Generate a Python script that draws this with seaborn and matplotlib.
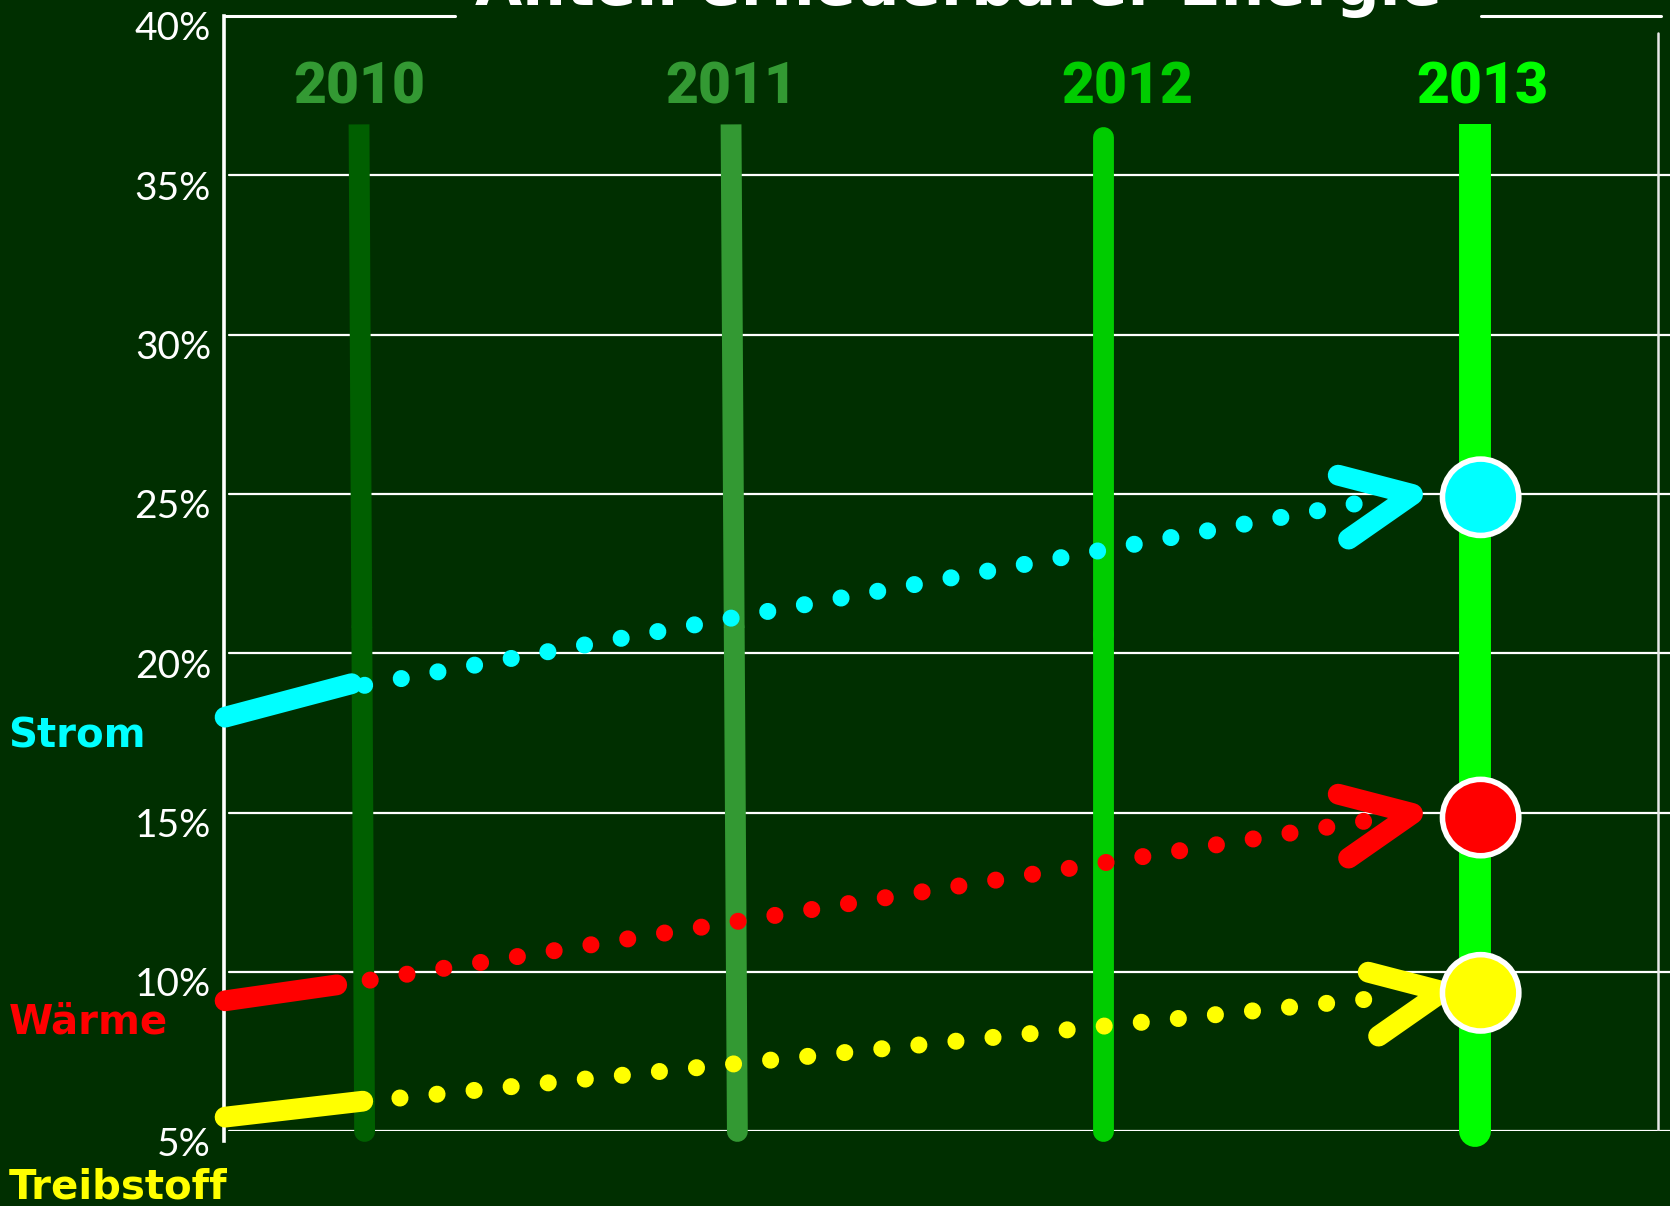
import seaborn as sns
import matplotlib
matplotlib.use('Agg')
import matplotlib.pyplot as plt
from matplotlib.markers import MarkerStyle
from matplotlib import transforms

# Données
years = [2010, 2011, 2012, 2013]
bar_colors = ['#005f00', '#339933', '#00cc00', '#00ff00']
year_label_colors = ['#339933', '#339933', '#00cc00', '#00ff00']
bar_top = [36.6, 36.6, 36.2, 36.6]
bar_bottom = [5.0, 5.0, 5.0, 5.0]
bar_bottom_x = [2010.015, 2011.017, 2012.0, 2013.0]

series = ['Strom', 'Wärme', 'Treibstoff']
series_colors = ['#00ffff', '#ff0000', '#ffff00']

# trait épais de départ
start_x0 = [2009.64, 2009.64, 2009.64]
start_x1 = [2009.98, 2009.94, 2010.01]
start_y0 = [18.0, 9.1, 5.45]
start_y1 = [19.05, 9.6, 5.95]

# pointillés
dot_x0 = [2010.015, 2010.03, 2010.11]
dot_y0 = [19.0, 9.75, 6.05]
dot_x1 = [2012.68, 2012.71, 2012.71]
dot_y1 = [24.7, 14.75, 9.15]

# pointes de flèche
tip_x = [2012.83, 2012.83, 2012.91]
tip_y = [25.0, 15.0, 9.4]

# valeurs 2013
val_2013 = [24.9, 14.85, 9.35]

yticks = [5, 10, 15, 20, 25, 30, 35, 40]
ytick_labels = ['5%', '10%', '15%', '20%', '25%', '30%', '35%', '40%']

bg = '#002f00'
sns.set_theme(style='white', rc={'axes.facecolor': bg, 'figure.facecolor': bg})
plt.rcParams['font.family'] = ['DejaVu Sans']

fig = plt.figure(figsize=(16.7, 12.06), dpi=100)
ax = fig.add_axes([0.1339, 0.0618, 0.8661, 0.9249])
ax.set_xlim(2009.636, 2013.524)
ax.set_ylim(5, 40)

# grille horizontale
for v in yticks[:-1]:
    ax.axhline(v, xmin=0.004, xmax=1.0, color='white', lw=1.6, zorder=1)
ax.axhline(40, xmin=0, xmax=0.16, color='white', lw=2.2, zorder=1, clip_on=False)
ax.axhline(40, xmin=0.869, xmax=0.994, color='white', lw=2.2, zorder=1, clip_on=False)
ax.axvline(2013.493, ymin=0, ymax=0.985, color='#e8e8e8', lw=1.8, zorder=1)

for s in ['top', 'right', 'bottom']:
    ax.spines[s].set_visible(False)
ax.spines['left'].set_color('white')
ax.spines['left'].set_linewidth(2.6)
ax.spines['left'].set_bounds(4.7, 40)

ax.set_xticks([])
ax.set_yticks(yticks)
ax.set_yticklabels(ytick_labels)
ax.tick_params(axis='y', length=0, pad=9, labelsize=28, labelcolor='white')
off = transforms.ScaledTranslation(0, -7 / 72, fig.dpi_scale_trans)
for lab in ax.get_yticklabels():
    lab.set_family(['Lato', 'DejaVu Sans'])
    lab.set_transform(lab.get_transform() + off)

# barres des années
for i, yr in enumerate(years):
    mid = (bar_top[i] + bar_bottom[i]) / 2
    lw = 23 if yr == 2013 else 15
    top_cap = 'round' if yr == 2012 else 'butt'
    xm = (yr + bar_bottom_x[i]) / 2
    sns.lineplot(x=[bar_bottom_x[i], xm], y=[bar_bottom[i], mid], ax=ax, color=bar_colors[i],
                 lw=lw, solid_capstyle='round', sort=False, estimator=None,
                 zorder=2, clip_on=False)
    sns.lineplot(x=[xm, yr], y=[mid, bar_top[i]], ax=ax, color=bar_colors[i],
                 lw=lw, solid_capstyle=top_cap, sort=False, estimator=None, zorder=2)
    ax.text(yr + [0, 0, 0.065, 0.02][i], 37.75, str(yr), ha='center', va='center',
            fontsize=41, fontweight='black', color=year_label_colors[i],
            family=['Roboto', 'DejaVu Sans'])

chevron = MarkerStyle([(-1, 0.26), (0, 0), (-0.86, -0.6)], fillstyle='none',
                      capstyle='round', joinstyle='round')

for i, name in enumerate(series):
    c = series_colors[i]
    sns.lineplot(x=[start_x0[i], start_x1[i]], y=[start_y0[i], start_y1[i]], ax=ax, color=c,
                 lw=15, solid_capstyle='round', sort=False, estimator=None,
                 zorder=3, clip_on=False)
    sns.lineplot(x=[dot_x0[i], dot_x1[i]], y=[dot_y0[i], dot_y1[i]], ax=ax, color=c,
                 lw=12.3, linestyle=(0, (0.001, 2.18)), dash_capstyle='round',
                 sort=False, estimator=None, zorder=4)
    ax.plot(tip_x[i], tip_y[i], marker=chevron, ms=107, mew=15, color=c, zorder=4)

sns.scatterplot(x=[2013.015] * 3, y=val_2013, hue=series, palette=series_colors, ax=ax,
                s=55 ** 2, edgecolor='white', linewidth=4, legend=False, zorder=5)

# étiquettes à gauche
label_y = [0.380, 0.143, 0.006]
for i, name in enumerate(series):
    fig.text(0.005, label_y[i], name, ha='left', va='baseline', fontsize=29,
             fontweight='bold', color=series_colors[i])

fig.text(0.574, 0.9958, 'Anteil erneuerbarer Energie', ha='center', va='baseline',
         fontsize=44, fontweight='bold', color='white')

ax.set_xlabel('')
ax.set_ylabel('')
plt.savefig('out.png', dpi=100, facecolor=bg)
